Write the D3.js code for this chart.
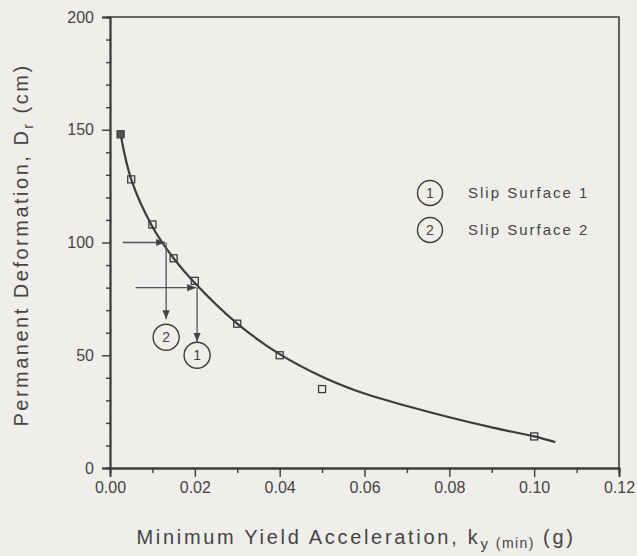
<!DOCTYPE html>
<html>
<head>
<meta charset="utf-8">
<script src="https://cdn.jsdelivr.net/npm/d3@7"></script>
<style>
  body { margin: 0; background: #efeeeb; }
  svg { display: block; }
  text { font-family: "Liberation Sans", Arial, Helvetica, sans-serif; fill: #444; }
</style>
</head>
<body>
<svg id="chart" width="637" height="556"></svg>
<script>
"use strict";

// measured points (open squares)
var pointK = [0.0025, 0.005, 0.01, 0.015, 0.02, 0.03, 0.04, 0.05, 0.10];
var pointD = [148, 128, 108, 93, 83, 64, 50, 35, 14];

// fitted curve
var curveK = [0.0025, 0.005, 0.01, 0.015, 0.02, 0.03, 0.04, 0.05, 0.06, 0.07, 0.08, 0.09, 0.10, 0.105];
var curveD = [148, 128, 107, 93, 82, 64, 50.5, 40.5, 33, 27.5, 22.5, 18, 14, 11.5];

// arrows: horizontal from kStart at D, then down to dEnd, circled label below
var arrowIds = ["2", "1"];
var arrowKStart = [0.003, 0.006];
var arrowKEnd = [0.013, 0.0203];
var arrowD = [100, 80];
var arrowDEnd = [66, 56];
var arrowCircleD = [58, 50];

var legendIds = ["1", "2"];
var legendText = ["Slip Surface 1", "Slip Surface 2"];

var xTicks = [0, 0.02, 0.04, 0.06, 0.08, 0.10, 0.12];
var yTicks = [0, 50, 100, 150, 200];

var svg = d3.select("#chart");
var ink = "#3c3c3c";

var x = d3.scaleLinear().domain([0, 0.12]).range([110, 619]);
var y = d3.scaleLinear().domain([0, 200]).range([468, 17]);

// frame top / right
svg.append("path")
    .attr("d", "M" + x(0) + "," + y(200) + "H" + x(0.12) + "V" + y(0))
    .attr("fill", "none").attr("stroke", ink).attr("stroke-width", 1.6);

function styleAxis(g) {
    g.select(".domain").attr("stroke", ink).attr("stroke-width", 1.8);
    g.selectAll(".tick line").attr("stroke", ink).attr("stroke-width", 1.4);
    g.selectAll(".tick text")
        .attr("font-size", 16).attr("fill", "#444")
        .attr("font-family", "Liberation Sans, Arial, sans-serif");
}

// minor ticks
svg.append("g")
    .attr("transform", "translate(0," + y(0) + ")")
    .call(d3.axisBottom(x).tickValues(d3.range(0.01, 0.12, 0.02)).tickSize(5).tickFormat(""))
    .call(styleAxis);
svg.append("g")
    .attr("transform", "translate(" + x(0) + ",0)")
    .call(d3.axisLeft(y).tickValues(d3.range(10, 200, 10).filter(function(v) { return v % 50 != 0; })).tickSize(4).tickFormat(""))
    .call(styleAxis);

// major ticks
svg.append("g")
    .attr("transform", "translate(0," + y(0) + ")")
    .call(d3.axisBottom(x).tickValues(xTicks).tickSize(9).tickPadding(5).tickFormat(d3.format(".2f")))
    .call(styleAxis);
svg.append("g")
    .attr("transform", "translate(" + x(0) + ",0)")
    .call(d3.axisLeft(y).tickValues(yTicks).tickSize(8).tickPadding(8))
    .call(styleAxis);

// fitted curve
var line = d3.line()
    .x(function(d) { return x(d[0]); })
    .y(function(d) { return y(d[1]); })
    .curve(d3.curveCatmullRom);
svg.append("path")
    .datum(d3.zip(curveK, curveD))
    .attr("d", line)
    .attr("fill", "none").attr("stroke", ink).attr("stroke-width", 2.2);

// squares
var sq = 7;
svg.append("g").selectAll("rect")
    .data(d3.zip(pointK, pointD))
    .enter().append("rect")
    .attr("x", function(d) { return x(d[0]) - sq / 2; })
    .attr("y", function(d) { return y(d[1]) - sq / 2; })
    .attr("width", sq).attr("height", sq)
    .attr("fill", function(d, i) { return i == 0 ? "#555" : "none"; })
    .attr("stroke", ink).attr("stroke-width", 1.3);

// arrows
svg.append("defs").append("marker")
    .attr("id", "head").attr("viewBox", "0 0 10 10")
    .attr("refX", 10).attr("refY", 5)
    .attr("markerWidth", 9).attr("markerHeight", 9)
    .attr("markerUnits", "userSpaceOnUse")
    .attr("orient", "auto")
    .append("path").attr("d", "M0,1L10,5L0,9Z").attr("fill", "#444");

var arrowColor = "#50535a";
arrowIds.forEach(function(id, i) {
    var g = svg.append("g");
    g.append("line")
        .attr("x1", x(arrowKStart[i])).attr("y1", y(arrowD[i]))
        .attr("x2", x(arrowKEnd[i])).attr("y2", y(arrowD[i]))
        .attr("stroke", arrowColor).attr("stroke-width", 1.3)
        .attr("marker-end", "url(#head)");
    g.append("line")
        .attr("x1", x(arrowKEnd[i]) + 1).attr("y1", y(arrowD[i]))
        .attr("x2", x(arrowKEnd[i]) + 1).attr("y2", y(arrowDEnd[i]))
        .attr("stroke", arrowColor).attr("stroke-width", 1.3)
        .attr("marker-end", "url(#head)");
    g.append("circle")
        .attr("cx", x(arrowKEnd[i]) + 1).attr("cy", y(arrowCircleD[i]))
        .attr("r", 13).attr("fill", "none").attr("stroke", ink).attr("stroke-width", 1.4);
    g.append("text")
        .attr("x", x(arrowKEnd[i]) + 1).attr("y", y(arrowCircleD[i]) + 5)
        .attr("text-anchor", "middle").attr("font-size", 14)
        .text(id);
});

// legend
legendIds.forEach(function(id, i) {
    var cy = 193 + i * 37;
    svg.append("circle")
        .attr("cx", 430).attr("cy", cy).attr("r", 12.5)
        .attr("fill", "none").attr("stroke", ink).attr("stroke-width", 1.4);
    svg.append("text")
        .attr("x", 430).attr("y", cy + 5)
        .attr("text-anchor", "middle").attr("font-size", 14)
        .text(id);
    svg.append("text")
        .attr("x", 468).attr("y", cy + 5)
        .attr("font-size", 15).attr("letter-spacing", 2)
        .text(legendText[i]);
});

// axis titles
var xt = svg.append("text")
    .attr("x", 356).attr("y", 544)
    .attr("text-anchor", "middle").attr("font-size", 20).attr("letter-spacing", 2.7);
xt.append("tspan").text("Minimum Yield Acceleration, k");
xt.append("tspan").attr("dy", 5).attr("font-size", 15).text("y");
xt.append("tspan").attr("dy", -1).attr("font-size", 14).attr("letter-spacing", 1.4).text(" (min)");
xt.append("tspan").attr("dy", -4).text("  (g)");

var yt = svg.append("text")
    .attr("transform", "translate(28,245) rotate(-90)")
    .attr("text-anchor", "middle").attr("font-size", 20).attr("letter-spacing", 2.5);
yt.append("tspan").text("Permanent Deformation, D");
yt.append("tspan").attr("dy", 5).attr("font-size", 14).text("r");
yt.append("tspan").attr("dy", -5).text("  (cm)");
</script>
</body>
</html>
